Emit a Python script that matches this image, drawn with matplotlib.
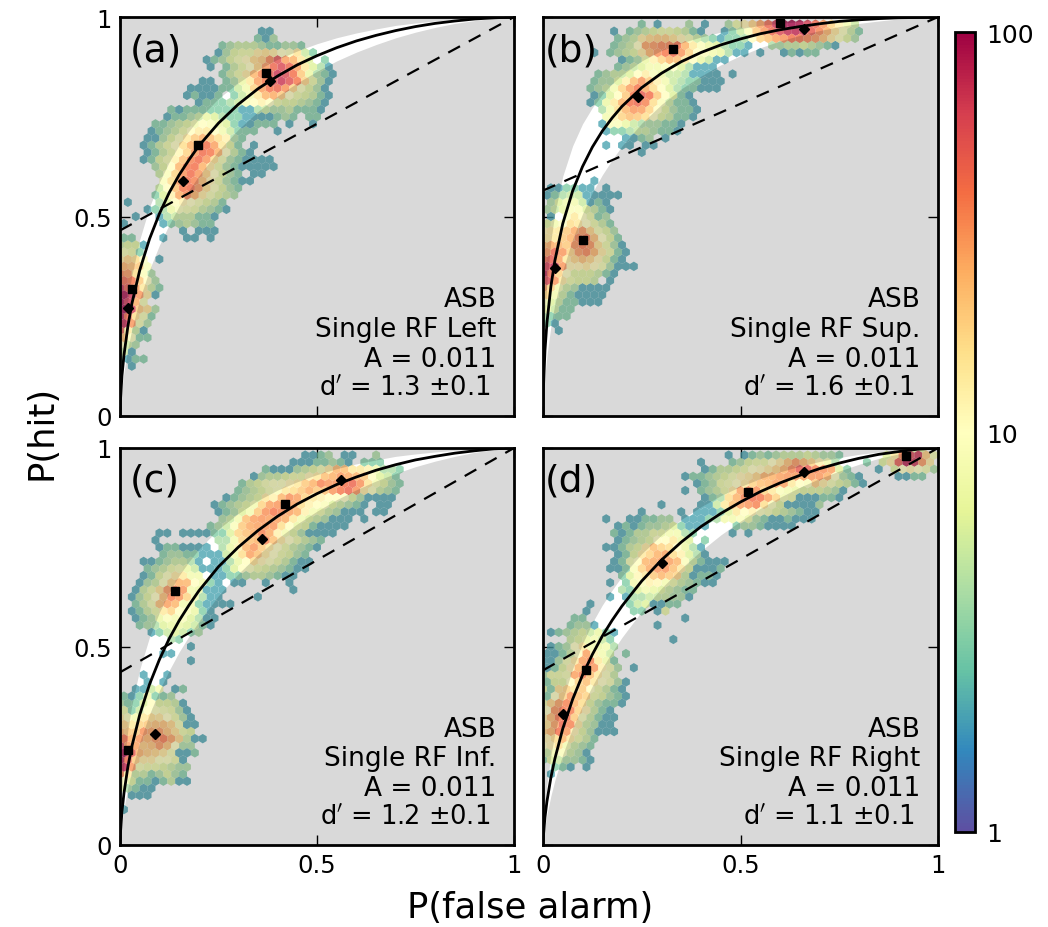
import numpy as np
import matplotlib
matplotlib.use("Agg")
import matplotlib.pyplot as plt
from matplotlib.colors import LogNorm
from matplotlib.cm import ScalarMappable

# hex cells, one tuple per run: (half row, first column, counts), 0 = empty
a_cells = [
    (54, 18, [2, 2]), (53, 17, [3, 2, 4]),
    (52, 13, [3, 4, 5, 5, 5, 4, 3, 3, 4, 4, 3]),
    (51, 12, [2, 4, 6, 7, 7, 14, 16, 14, 10, 9, 15, 5, 3]),
    (50, 11, [2, 3, 4, 6, 8, 11, 17, 20, 35, 55, 28, 25, 14, 6, 0, 3]),
    (49, 11, [2, 0, 3, 5, 7, 10, 18, 30, 45, 60, 45, 28, 14, 6, 4, 2]),
    (48, 13, [3, 5, 7, 14, 24, 35, 50, 70, 60, 40, 20, 7, 4, 3, 2]),
    (47, 10, [2, 2, 0, 3, 4, 7, 14, 28, 38, 55, 70, 55, 38, 18, 7, 4, 2]),
    (46, 9, [2, 2, 2, 2, 3, 3, 5, 8, 18, 28, 40, 45, 32, 18, 9, 6, 4, 2]),
    (45, 8, [2, 3, 2, 2, 3, 0, 3, 5, 8, 14, 24, 26, 20, 10, 7, 6, 5, 3, 2]),
    (44, 10, [2, 3, 3, 3, 4, 5, 9, 10, 12, 10, 7, 6, 6, 5, 4, 3, 2]),
    (43, 6, [3, 2, 3, 3, 3, 3, 3, 3, 3, 2, 2, 4, 5, 4, 4, 5, 3, 3, 3, 2]),
    (42, 6, [2, 3, 3, 4, 5, 7, 6, 4, 3, 3, 2, 2, 2, 2, 3, 4, 3, 0, 3, 3]),
    (41, 4, [3, 3, 4, 5, 6, 8, 10, 9, 7, 6, 3, 2, 2, 3, 3, 3, 0, 2, 0, 0, 2]),
    (40, 4, [2, 3, 4, 5, 7, 10, 13, 14, 10, 8, 5, 3, 3, 3, 0, 0, 2]),
    (39, 3, [2, 2, 4, 6, 9, 14, 20, 25, 22, 16, 12, 4, 3]),
    (38, 3, [2, 3, 5, 7, 10, 16, 25, 35, 40, 28, 14, 6, 3, 0, 2]),
    (37, 3, [2, 3, 5, 7, 11, 18, 30, 42, 38, 25, 10, 5, 3, 2]),
    (36, 3, [2, 3, 6, 8, 12, 22, 35, 42, 30, 16, 8, 4, 3, 2, 2, 2, 2]),
    (35, 4, [4, 6, 10, 24, 38, 40, 25, 14, 7, 4, 3, 2, 2, 2, 2, 2]),
    (34, 5, [5, 9, 18, 32, 42, 30, 18, 10, 6, 4, 3, 0, 2, 2]),
    (33, 5, [9, 16, 30, 42, 35, 22, 12, 7, 4, 3, 2, 2]),
    (32, 5, [5, 10, 22, 38, 42, 30, 16, 9, 6, 4, 3]),
    (31, 4, [3, 6, 12, 26, 35, 25, 14, 8, 6, 5, 4]),
    (30, 1, [2, 0, 0, 0, 4, 6, 10, 12, 10, 8, 6, 5, 3]),
    (29, 3, [2, 3, 4, 7, 9, 8, 7, 5, 4, 3, 2]),
    (28, 2, [2, 0, 0, 2, 4, 5, 5, 5, 3, 3, 2]),
    (27, 0, [2, 0, 0, 0, 0, 2, 3, 4, 5, 4, 3, 3]),
    (26, 8, [2, 0, 2, 2, 2]),
    (25, 0, [3, 3, 0, 0, 0, 2, 0, 0, 2, 2, 0, 2]),
    (24, 0, [5, 6, 6, 2]), (23, 0, [8, 7, 3]),
    (22, 0, [14, 18, 16, 10, 0, 2]), (21, 0, [25, 22, 20, 9]),
    (20, 0, [35, 30, 16, 9, 4]), (19, 0, [45, 38, 20, 10, 4]),
    (18, 0, [75, 50, 28, 14, 5, 3]), (17, 0, [95, 70, 30, 14, 2]),
    (16, 0, [100, 70, 26, 8]), (15, 0, [100, 65, 20, 16, 4]),
    (14, 0, [90, 45, 16, 8, 3]), (13, 0, [80, 30, 8, 4]),
    (12, 0, [50, 14, 5, 2]), (11, 0, [22, 9, 3, 3]),
    (10, 0, [10, 5, 4]), (9, 0, [5, 2]), (8, 0, [4, 2, 3, 3]), (7, 1, [2]),
]

b_cells = [
    (55, 12, [3, 0, 2, 0, 0, 0, 4, 0, 2, 0, 0, 4, 7, 12, 18, 28, 45, 70, 95, 100, 90, 65, 45, 30, 18, 12, 8, 5]),
    (54, 9, [2, 0, 3, 4, 5, 6, 7, 7, 6, 5, 3, 2, 0, 0, 2, 3, 5, 9, 20, 30, 45, 60, 75, 80, 70, 50, 35, 25, 15, 9, 5, 3]),
    (53, 9, [3, 4, 5, 14, 18, 20, 20, 16, 12, 8, 5, 4, 3, 2, 3, 3, 4, 10, 18, 22, 28, 32, 40, 40, 35, 30, 22, 14, 9, 6, 4]),
    (52, 9, [3, 4, 5, 10, 28, 30, 35, 35, 40, 25, 14, 9, 7, 6, 4, 3, 3, 2]),
    (52, 29, [4, 4, 5, 5, 6, 5, 4, 3, 2]),
    (51, 6, [2, 0, 3, 4, 5, 6, 14, 25, 32, 38, 42, 30, 18, 10, 9, 8, 7, 4, 2, 2, 0, 2, 0, 0, 2, 3, 2, 3, 3]),
    (50, 10, [2, 3, 4, 7, 12, 18, 25, 22, 14, 10, 7, 5, 2, 2]),
    (49, 9, [3, 4, 5, 6, 8, 8, 9, 10, 6, 4, 2, 2, 2]),
    (48, 7, [3, 4, 5, 5, 6, 10, 13, 9, 7, 5, 5, 4, 2, 2, 2, 2, 0, 2]),
    (47, 6, [3, 4, 4, 6, 12, 22, 30, 20, 12, 8, 5, 4, 3, 3, 2, 2, 2]),
    (46, 6, [3, 4, 5, 8, 18, 28, 38, 26, 16, 10, 6, 4, 3, 3, 2, 2, 2]),
    (45, 6, [2, 3, 6, 10, 20, 38, 50, 40, 20, 10, 6, 3, 2]),
    (44, 6, [2, 3, 7, 14, 25, 40, 45, 35, 16, 9, 5, 3, 3, 2]),
    (43, 7, [4, 8, 16, 24, 30, 28, 18, 10, 6, 4, 3, 3, 2]),
    (42, 8, [8, 12, 18, 22, 20, 16, 10, 6, 5, 3, 3, 2]),
    (41, 7, [2, 9, 9, 7, 5, 4, 4, 4, 3, 3, 2]),
    (40, 8, [2, 3, 3, 4, 5, 5, 4, 3, 3, 2]),
    (39, 10, [2, 2, 3, 4, 0, 2]),
    (38, 8, [2, 0, 2, 2, 0, 2, 2]), (37, 12, [2]),
    (33, 6, [2]), (32, 1, [2, 2, 3, 3, 2, 2, 0, 2]),
    (31, 0, [2, 3, 4, 5, 5, 2, 2, 2, 2, 2]),
    (30, 1, [4, 6, 8, 8, 5, 2, 3, 2]),
    (29, 0, [4, 5, 7, 9, 9, 6, 5, 3, 2]),
    (28, 1, [2, 0, 9, 14, 10, 7, 3, 4]),
    (27, 0, [6, 8, 10, 16, 14, 10, 7, 5, 3]),
    (26, 0, [12, 14, 14, 20, 26, 30, 18, 8, 6, 4]),
    (25, 0, [14, 14, 20, 25, 35, 38, 22, 10, 6, 3]),
    (24, 0, [24, 26, 24, 20, 32, 38, 32, 16, 7, 4, 2]),
    (23, 0, [30, 45, 30, 18, 30, 35, 25, 14, 7, 3, 2]),
    (22, 0, [45, 50, 28, 14, 18, 22, 18, 12, 6, 3, 2]),
    (21, 0, [65, 80, 30, 12, 12, 14, 11, 8, 4, 2, 2, 2]),
    (20, 0, [85, 45, 18, 10, 6, 6, 6, 5, 3, 2]),
    (19, 0, [60, 30, 14, 7, 6, 6, 5, 0, 2]),
    (18, 0, [30, 18, 8, 5, 4, 2, 2, 2, 2]),
    (17, 0, [18, 8, 5, 3, 2, 2, 2, 2]),
    (16, 0, [9, 6, 5, 3, 3, 2, 2, 2]),
    (15, 0, [7, 5, 3, 3]), (14, 0, [4, 3, 3, 3]), (13, 0, [3, 2]), (12, 2, [2]),
]

c_cells = [
    (55, 23, [2, 2, 3, 4, 0, 2, 2, 0, 0, 4]),
    (54, 22, [2, 2, 2, 3, 3, 4, 3, 2, 0, 3, 3, 3]),
    (53, 18, [3, 2, 2, 2, 4, 5, 6, 8, 14, 24, 22, 14, 14, 12, 8, 4, 4, 3]),
    (52, 17, [2, 4, 5, 5, 6, 7, 7, 12, 14, 22, 25, 30, 26, 24, 20, 10, 6, 5, 3]),
    (51, 15, [3, 5, 6, 8, 9, 9, 12, 14, 20, 25, 35, 30, 32, 40, 45, 32, 15, 8, 6, 4, 3]),
    (50, 15, [3, 4, 5, 6, 8, 9, 14, 16, 20, 26, 20, 22, 30, 38, 45, 32, 14, 9, 5, 4, 3]),
    (49, 13, [2, 3, 4, 5, 6, 14, 12, 24, 32, 28, 18, 14, 12, 10, 10, 10, 6, 4, 2, 2, 2, 2]),
    (48, 12, [2, 3, 4, 5, 6, 8, 18, 28, 30, 30, 28, 16, 12, 10, 9, 6, 5, 4, 3, 2, 0, 2, 2]),
    (47, 12, [2, 3, 4, 6, 8, 20, 32, 38, 35, 28, 25, 12, 8, 7, 5, 4, 2, 2, 2, 0, 2, 2]),
    (46, 13, [4, 5, 8, 22, 28, 30, 28, 28, 26, 14, 8, 6, 5, 4, 2, 2, 2, 0, 2]),
    (45, 11, [3, 4, 5, 9, 20, 26, 28, 30, 30, 16, 10, 7, 6, 3, 2, 2, 2, 2]),
    (44, 5, [2, 2, 0, 2, 2, 2, 2, 3, 3, 6, 18, 22, 26, 35, 26, 12, 8, 6, 4, 2, 2, 2, 2]),
    (43, 4, [2]),
    (43, 12, [4, 4, 8, 18, 22, 25, 35, 22, 14, 10, 7, 5, 4, 3]),
    (42, 5, [2, 3, 3, 2, 2, 2, 2, 0, 4, 7, 12, 24, 30, 20, 14, 10, 7, 5, 4, 3, 2]),
    (41, 5, [3, 4, 4, 3, 3, 2, 2, 2, 5, 8, 16, 28, 22, 14, 10, 7, 6, 4, 3]),
    (40, 3, [2, 2, 3, 4, 5, 5, 4, 2, 0, 2, 2, 4, 7, 10, 16, 12, 9, 7, 5, 3, 2, 2]),
    (39, 3, [3, 4, 5, 7, 8, 7, 5, 2, 2, 2, 3, 6, 10, 9, 7, 6, 5, 4, 3, 2, 2]),
    (38, 3, [2, 3, 6, 9, 14, 14, 8, 8, 0, 2, 2, 3, 3, 4, 5, 5, 4, 3, 2, 2]),
    (37, 2, [2, 4, 5, 9, 18, 25, 24, 10, 8, 3, 2, 0, 2, 2, 0, 0, 2, 0, 0, 2]),
    (36, 2, [2, 5, 7, 16, 30, 38, 30, 8, 7, 2, 2, 2]), (36, 22, [2]),
    (35, 1, [2, 4, 6, 10, 22, 36, 30, 18, 8, 4, 2, 2, 0, 0, 0, 0, 2]),
    (34, 2, [3, 5, 8, 22, 28, 24, 8, 8, 3, 2, 2, 2, 2]),
    (33, 1, [2, 3, 5, 7, 14, 18, 10, 9, 7, 3, 2]),
    (32, 2, [2, 3, 4, 7, 9, 8, 9, 6, 4, 2, 2]),
    (31, 2, [3, 4, 4, 6, 7, 7, 6, 5, 3, 2]),
    (30, 4, [2, 3, 5, 6, 5, 3, 4]), (29, 6, [4, 3]),
    (28, 9, [2]), (27, 5, [2, 2]), (26, 9, [2]),
    (24, 3, [2, 0, 0, 2]), (23, 3, [2, 0, 2]),
    (22, 2, [2, 2, 5, 8, 0, 2, 3]),
    (21, 0, [3, 2, 3, 8, 3, 3, 4]),
    (20, 0, [4, 3, 3, 6, 10, 6, 6, 5, 2]),
    (19, 0, [7, 3, 5, 10, 9, 8, 7, 4, 2]),
    (18, 0, [14, 9, 8, 14, 16, 15, 10, 7, 4, 2]),
    (17, 0, [18, 14, 18, 20, 22, 22, 18, 8, 2, 2]),
    (16, 0, [25, 20, 20, 32, 28, 30, 22, 16, 7, 6]),
    (15, 0, [40, 25, 30, 25, 32, 38, 28, 18, 5, 2, 2]),
    (14, 0, [70, 30, 28, 20, 22, 30, 22, 10, 4, 4]),
    (13, 0, [100, 50, 25, 20, 18, 15, 8, 2, 2, 3]),
    (12, 0, [90, 45, 20, 14, 14, 9, 9, 7, 2]),
    (11, 0, [80, 30, 8, 7, 7, 6, 5, 4, 4]),
    (10, 0, [35, 14, 5, 5, 3, 4, 6, 4, 3]),
    (9, 0, [10, 6, 3, 3, 2, 3, 5, 2, 2]),
    (8, 0, [7, 4, 3, 2, 2]), (7, 1, [2, 2, 2]), (5, 0, [2]),
]

d_cells = [
    (56, 46, [8, 8, 6]),
    (55, 23, [2, 0, 2, 3, 4, 3, 4, 5, 5, 5, 6, 5, 4, 4, 3]),
    (55, 43, [6, 14, 35, 60, 70, 20, 8]),
    (54, 20, [2, 0, 0, 0, 3, 4, 6, 7, 7, 10, 14, 22, 30, 24, 18, 12, 8, 4, 0, 0, 0, 3, 0, 6, 14, 50, 85, 70, 30, 14]),
    (53, 20, [2, 3, 5, 5, 6, 7, 10, 11, 14, 18, 25, 35, 50, 50, 35, 32, 28, 6, 3, 0, 0, 0, 2, 0, 6, 10, 12, 10, 8, 4]),
    (52, 18, [2, 3, 3, 4, 5, 6, 8, 12, 14, 18, 25, 25, 28, 30, 30, 28, 30, 30, 25, 10, 4, 3, 2]),
    (52, 45, [2, 2, 3, 3]),
    (51, 19, [2, 3, 4, 7, 8, 10, 14, 18, 22, 24, 28, 28, 14, 10, 9, 20, 14, 8, 6, 5, 3, 2]),
    (50, 18, [2, 0, 3, 4, 5, 7, 14, 28, 35, 32, 18, 14, 9, 8, 7, 6, 6, 6, 5, 4, 2]),
    (49, 20, [2, 3, 4, 16, 25, 35, 40, 38, 28, 18, 8, 7, 2, 2, 2, 3, 3, 2]),
    (48, 15, [2]),
    (48, 20, [2, 2, 5, 14, 22, 28, 30, 35, 16, 9, 6, 2, 2, 2, 2, 4]),
    (47, 12, [2]), (47, 17, [2]),
    (47, 19, [2, 2, 2, 3, 6, 14, 10, 12, 9, 8, 6, 5, 4, 3, 2, 2]),
    (46, 8, [2, 0, 0, 2, 2, 3, 3, 4, 4, 0, 2, 2, 2, 3, 4, 8, 8, 9, 7, 4, 3, 2, 2, 3, 2, 2, 2]),
    (45, 9, [2, 3, 2, 3, 4, 4, 5, 6, 3, 2, 2, 2, 0, 0, 0, 3, 4, 4, 3, 2, 2, 2, 2]),
    (44, 9, [3, 2, 3, 5, 5, 7, 7, 8, 8, 4, 3, 0, 0, 0, 0, 2, 0, 2]),
    (43, 9, [2, 3, 4, 5, 6, 10, 10, 14, 7, 6, 0, 3]),
    (42, 8, [2, 2, 3, 5, 6, 14, 22, 18, 16, 10, 7, 4, 2]),
    (41, 9, [2, 3, 6, 14, 18, 25, 28, 16, 12, 6, 4, 2]),
    (40, 9, [2, 3, 8, 10, 24, 26, 30, 28, 24, 9, 5, 3, 2, 2, 2]),
    (39, 8, [2, 2, 3, 9, 18, 26, 30, 30, 22, 14, 6, 2, 2, 2, 3]),
    (38, 10, [3, 6, 11, 14, 20, 24, 20, 18, 5, 2, 3, 3, 2]),
    (37, 8, [2, 0, 3, 8, 9, 12, 11, 8, 7, 5, 4, 3, 2, 2]),
    (36, 10, [4, 3, 6, 8, 7, 6, 5, 4, 3, 3]),
    (35, 8, [2, 0, 2, 4, 4, 5, 5, 5, 4, 4, 2]),
    (34, 6, [2, 0, 0, 0, 0, 3, 5, 6, 2, 2, 3, 3]),
    (33, 5, [2, 0, 0, 0, 0, 0, 3, 3, 0, 2, 7]),
    (32, 4, [3, 3]), (32, 18, [2]),
    (31, 3, [3, 4, 4, 2]), (31, 14, [2]), (29, 16, [2]),
    (30, 1, [2, 3, 4, 5, 6, 5, 7, 3, 2]),
    (29, 3, [5, 6, 7, 8, 5, 3]),
    (28, 1, [2, 3, 4, 10, 14, 8, 7, 8, 4]),
    (27, 0, [2, 2, 3, 5, 10, 28, 12, 8, 5, 0, 3]),
    (26, 0, [2, 2, 4, 8, 14, 28, 35, 14, 7, 3]),
    (25, 0, [2, 3, 6, 12, 25, 38, 30, 12, 8, 4, 0, 2]),
    (24, 0, [4, 7, 7, 8, 28, 36, 22, 14, 9, 5]),
    (23, 0, [3, 6, 6, 10, 18, 22, 14, 10, 8, 4, 2]),
    (22, 0, [6, 3, 16, 18, 14, 20, 10, 7, 5, 3, 2]),
    (21, 0, [3, 10, 18, 30, 22, 18, 7, 6, 4, 3, 2]),
    (20, 0, [7, 18, 28, 35, 24, 16, 6, 4, 3, 3, 2]),
    (19, 0, [10, 32, 38, 36, 18, 12, 5, 3, 2]),
    (18, 0, [14, 24, 38, 42, 20, 9, 5, 3, 2, 2]),
    (17, 0, [16, 28, 45, 35, 14, 5, 4, 2, 2]),
    (16, 0, [20, 25, 40, 30, 12, 6, 4, 2, 2, 2]),
    (15, 0, [12, 16, 24, 14, 7, 5, 3]),
    (14, 0, [10, 12, 16, 8, 5, 4, 3]),
    (13, 0, [5, 8, 9, 5, 4, 2]),
    (12, 0, [3, 6, 5, 4, 4, 3, 2]),
    (11, 1, [3, 3, 2, 0, 2]), (10, 1, [2]),
]

# ROC curves, one list per sensitivity
roc_x = [0, .0001, .001, .005, .01, .02, .03, .05, .075, .1, .125, .15, .175, .2, .25, .3, .35, .4, .45, .5, .55, .6, .65, .7, .75, .8, .85, .9, .95, 1]
roc_09 = [0, .002, .014, .047, .077, .124, .163, .228, .295, .351, .401, .446, .486, .523, .589, .647, .697, .741, .781, .816, .848, .876, .901, .923, .942, .959, .974, .985, .995, 1]
roc_10 = [0, .003, .018, .058, .092, .146, .189, .260, .330, .389, .440, .486, .526, .563, .628, .683, .731, .772, .809, .841, .870, .895, .917, .936, .953, .967, .979, .989, .996, 1]
roc_11 = [0, .004, .023, .070, .110, .170, .217, .293, .367, .428, .480, .526, .566, .602, .665, .718, .763, .802, .835, .864, .890, .912, .931, .948, .962, .974, .984, .991, .997, 1]
roc_12 = [0, .006, .029, .084, .130, .197, .248, .328, .405, .467, .520, .565, .604, .640, .701, .750, .792, .828, .859, .885, .908, .927, .944, .958, .970, .979, .987, .993, .998, 1]
roc_13 = [0, .008, .037, .101, .152, .225, .281, .365, .444, .507, .560, .604, .642, .677, .734, .781, .820, .852, .880, .903, .923, .940, .954, .966, .976, .984, .990, .995, .998, 1]
roc_15 = [0, .013, .056, .141, .204, .290, .352, .442, .524, .586, .637, .679, .714, .745, .796, .835, .868, .894, .915, .933, .948, .960, .970, .979, .985, .990, .994, .997, .999, 1]
roc_16 = [0, .017, .068, .165, .234, .325, .389, .482, .564, .625, .674, .714, .747, .776, .823, .859, .888, .911, .930, .945, .958, .968, .976, .983, .989, .993, .996, .998, .999, 1]
roc_19 = [0, .034, .117, .250, .335, .439, .508, .601, .677, .732, .773, .806, .833, .855, .890, .916, .935, .950, .962, .971, .979, .984, .989, .992, .995, .997, .998, .999, 1, 1]

panels = [
    dict(tag="(a)", cells=a_cells, solid=roc_13, low=roc_11, high=roc_15, start=.465,
         sx=[.03, .198, .37], sy=[.318, .68, .86], dx=[.02, .16, .38], dy=[.27, .59, .84],
         name="Single RF Left", dp="1.3", box=[120, 18, 514, 417], tag_x=.025),
    dict(tag="(b)", cells=b_cells, solid=roc_16, low=roc_13, high=roc_19, start=.565,
         sx=[.10, .33, .60], sy=[.44, .92, .985], dx=[.03, .24, .66], dy=[.37, .80, .97],
         name="Single RF Sup.", dp="1.6", box=[543, 18, 938, 417], tag_x=.004),
    dict(tag="(c)", cells=c_cells, solid=roc_12, low=roc_10, high=roc_15, start=.435,
         sx=[.02, .14, .42], sy=[.24, .64, .86], dx=[.09, .36, .56], dy=[.28, .77, .92],
         name="Single RF Inf.", dp="1.2", box=[120, 449, 514, 846], tag_x=.025),
    dict(tag="(d)", cells=d_cells, solid=roc_11, low=roc_09, high=roc_13, start=.44,
         sx=[.11, .52, .92], sy=[.44, .89, .98], dx=[.05, .30, .66], dy=[.33, .71, .94],
         name="Single RF Right", dp="1.1", box=[543, 449, 938, 846], tag_x=.004),
]
tick_vals = [0, .5, 1]
tick_text = ["0", "0.5", "1"]
W, H = 1048, 928
FS = 17.5
NOTE = 19

norm = LogNorm(1, 100)
fig = plt.figure(figsize=(W / 100, H / 100), dpi=100)


def expand(cells):
    xs, ys, vs = [], [], []
    for row, col, vals in cells:
        for i, v in enumerate(vals):
            if v > 0:
                xs.append((col + i + .5 * (row % 2)) * .02)
                ys.append(row / 56)
                vs.append(v)
    return xs, ys, vs


for idx, p in enumerate(panels):
    l, t, r, b = p["box"]
    ax = fig.add_axes([l / W, 1 - b / H, (r - l) / W, (b - t) / H])
    xs, ys, vs = expand(p["cells"])
    ax.hexbin(xs, ys, C=vs, gridsize=50, extent=(0, 1, 0, 1), cmap="Spectral_r", norm=norm,
              alpha=.8, linewidths=0, edgecolors="none", reduce_C_function=np.max, zorder=2)
    # grey veil above and below the band, hexes show through it
    ax.fill_between(roc_x, p["high"], 1, color="k", alpha=.15, lw=0, zorder=2.5)
    ax.fill_between(roc_x, 0, p["low"], color="k", alpha=.15, lw=0, zorder=2.5)
    ax.plot(roc_x, p["solid"], color="k", lw=2, zorder=3)
    ax.plot([0, 1], [p["start"], 1], color="k", lw=1.6, dashes=(6, 4.5), zorder=3)
    ax.plot(p["sx"], p["sy"], "s", color="k", ms=5.5, zorder=4)
    ax.plot(p["dx"], p["dy"], "D", color="k", ms=5.5, zorder=4)
    ax.set_xlim(0, 1)
    ax.set_ylim(0, 1)
    ax.set_xticks(tick_vals)
    ax.set_yticks(tick_vals)
    ax.set_xticklabels(tick_text if idx >= 2 else [])
    ax.set_yticklabels(tick_text if idx % 2 == 0 else [])
    ax.tick_params(direction="in", top=True, right=True, length=7, width=1, labelsize=FS, pad=6)
    for s in ax.spines.values():
        s.set_linewidth(2)
    ax.text(p["tag_x"], .917, p["tag"], transform=ax.transAxes, fontsize=27, va="center", ha="left", zorder=5)
    ax.text(.955, .293, "ASB", transform=ax.transAxes, fontsize=NOTE, va="center", ha="right", zorder=5)
    ax.text(.955, .218, p["name"], transform=ax.transAxes, fontsize=NOTE, va="center", ha="right", zorder=5)
    ax.text(.955, .143, "A = 0.011", transform=ax.transAxes, fontsize=NOTE, va="center", ha="right", zorder=5)
    ax.text(.94, .073, "d$'$ = " + p["dp"] + " \u00b10.1", transform=ax.transAxes, fontsize=18.5,
            va="center", ha="right", zorder=5)

fig.text(530 / W, 1 - 908 / H, "P(false alarm)", fontsize=25.5, ha="center", va="center")
fig.text(41 / W, 1 - 432 / H, "P(hit)", fontsize=25.5, ha="center", va="center", rotation=90)

cax = fig.add_axes([955 / W, 1 - 833 / H, 20 / W, 800 / H])
cb = fig.colorbar(ScalarMappable(norm=norm, cmap="Spectral_r"), cax=cax)
cb.set_ticks([1, 10, 100])
cb.set_ticklabels(["1", "10", "100"])
cb.minorticks_off()
cb.ax.tick_params(length=0, labelsize=18, pad=8)
cb.outline.set_linewidth(2)

fig.savefig("out.png", dpi=100)
